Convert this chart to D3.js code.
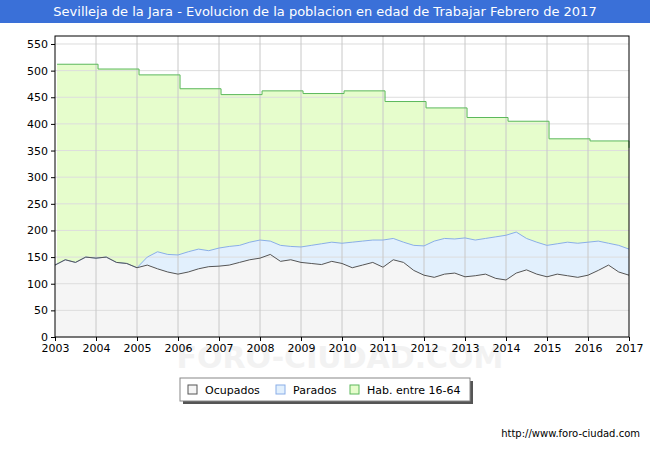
<!DOCTYPE html>
<html><head><meta charset="utf-8">
<script src="https://cdn.jsdelivr.net/npm/d3@7"></script>
<style>body{margin:0;background:#fff}text{font-family:Verdana,"DejaVu Sans",sans-serif}</style>
</head><body>
<svg id="c" width="650" height="450"></svg>
<script>
"use strict";
// yearly population 16-64 (Jan values)
var habYears = [2003,2004,2005,2006,2007,2008,2009,2010,2011,2012,2013,2014,2015,2016,2017];
var habValues = [512,503,492,466,455,462,457,462,442,430,412,405,372,368,355];
// quarterly samples from 2003.0 to 2017.0
var ocupados = [135,145,140,150, 148,150,140,138, 130,135,128,122, 118,122,128,132,
	133,135,140,145, 148,155,142,145, 140,138,136,142, 138,130,135,140,
	131,145,140,125, 116,112,118,120, 113,115,118,110, 107,120,126,118,
	113,118,115,112, 116,125,135,122, 116];
var parados = [0,0,0,0, 0,0,0,0, 0,15,32,33, 36,38,37,30,
	34,35,32,33, 34,25,30,25, 29,34,39,36, 38,48,45,42,
	51,40,38,47, 55,68,67,64, 73,67,67,78, 84,77,59,60,
	59,57,63,64, 62,55,41,50, 49];
var yTicks = [0,50,100,150,200,250,300,350,400,450,500,550];

(function() {
	var svg = d3.select("#c");
	var pl = 55, pr = 629, pt = 36, pb = 337;
	var x = d3.scaleLinear().domain([2003, 2017]).range([pl, pr]);
	var y = d3.scaleLinear().domain([0, 565]).range([pb, pt]);

	// title bar
	svg.append("rect").attr("x", 0).attr("y", 0).attr("width", 650).attr("height", 23).attr("fill", "#3a70d8");
	svg.append("text").attr("x", 325).attr("y", 16).attr("text-anchor", "middle")
		.attr("fill", "#fff").attr("font-size", 13).text("Sevilleja de la Jara - Evolucion de la poblacion en edad de Trabajar Febrero de 2017");

	var hab = habYears.map(function(yr, i) { return [yr, habValues[i]]; });
	hab.push([2017, 355]);
	var q = ocupados.map(function(o, i) { return {t: 2003 + i * 0.25, o: o, p: o + parados[i]}; });
	var hx = function(d) { return x(Math.min(2017, d[0] + 0.05)); };

	svg.append("path").datum(hab)
		.attr("fill", "#e6fdcc")
		.attr("d", d3.area().curve(d3.curveStepAfter).x(hx).y0(pb).y1(function(d) { return y(d[1]); }));
	svg.append("path").datum(q).attr("fill", "#e2f0fd")
		.attr("d", d3.area().x(function(d) { return x(d.t); }).y0(pb).y1(function(d) { return y(d.p); }));
	svg.append("path").datum(q).attr("fill", "#f5f5f5")
		.attr("d", d3.area().x(function(d) { return x(d.t); }).y0(pb).y1(function(d) { return y(d.o); }));

	// grid
	svg.selectAll(".hg").data(yTicks).enter().append("line")
		.attr("x1", pl).attr("x2", pr).attr("y1", function(d) { return y(d); }).attr("y2", function(d) { return y(d); })
		.attr("stroke", "#ddd");
	svg.selectAll(".vg").data(d3.range(2004, 2017)).enter().append("line")
		.attr("y1", pt).attr("y2", pb).attr("x1", function(d) { return x(d); }).attr("x2", function(d) { return x(d); })
		.attr("stroke", "#c8c8c8");

	svg.append("path").datum(hab).attr("fill", "none").attr("stroke", "#5cb85c")
		.attr("d", d3.line().curve(d3.curveStepAfter).x(hx).y(function(d) { return y(d[1]); }));
	svg.append("path").datum(q).attr("fill", "none").attr("stroke", "#8aaee8")
		.attr("d", d3.line().x(function(d) { return x(d.t); }).y(function(d) { return y(d.p); }));
	svg.append("path").datum(q).attr("fill", "none").attr("stroke", "#555")
		.attr("d", d3.line().x(function(d) { return x(d.t); }).y(function(d) { return y(d.o); }));

	svg.append("rect").attr("x", pl).attr("y", pt).attr("width", pr - pl).attr("height", pb - pt)
		.attr("fill", "none").attr("stroke", "#000");

	// watermark
	svg.append("text").attr("x", 340).attr("y", 368).attr("text-anchor", "middle").attr("font-size", 30)
		.attr("font-weight", "bold").attr("fill", "#f2f2f2").text("FORO-CIUDAD.COM");

	var ya = svg.append("g").attr("transform", "translate(" + pl + ",0)")
		.call(d3.axisLeft(y).tickValues(yTicks).tickSize(4));
	var xa = svg.append("g").attr("transform", "translate(0," + pb + ")")
		.call(d3.axisBottom(x).tickValues(habYears).tickFormat(d3.format("d")).tickSize(4));
	[ya, xa].forEach(function(a) {
		a.select(".domain").remove();
		a.selectAll("text").attr("font-size", 11).attr("fill", "#000");
	});

	// legend
	var lg = svg.append("g").attr("transform", "translate(180,378)");
	lg.append("rect").attr("x", 3).attr("y", 3).attr("width", 290).attr("height", 23).attr("fill", "#555");
	lg.append("rect").attr("width", 290).attr("height", 23).attr("fill", "#fff").attr("stroke", "#888");
	var items = [["Ocupados", "#f5f5f5", "#555", 8], ["Parados", "#e2f0fd", "#8aaee8", 96], ["Hab. entre 16-64", "#e6fdcc", "#5cb85c", 170]];
	items.forEach(function(it) {
		lg.append("rect").attr("x", it[3]).attr("y", 7).attr("width", 9).attr("height", 9).attr("fill", it[1]).attr("stroke", it[2]);
		lg.append("text").attr("x", it[3] + 17).attr("y", 16).attr("font-size", 11).text(it[0]);
	});

	svg.append("text").attr("x", 640).attr("y", 437).attr("text-anchor", "end").attr("font-size", 10).text("http://www.foro-ciudad.com");
}());
</script>
</body></html>
